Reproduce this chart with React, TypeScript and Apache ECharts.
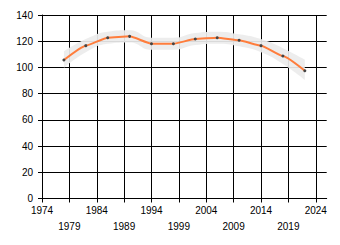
import React, { useEffect, useRef } from "react";
import * as echarts from "echarts";

const FIRST_YEAR = 1974;
const LAST_YEAR = 2026;
const TICK_STEP = 5;
const LAST_TICK_YEAR = 2024;
const years = [1978, 1982, 1986, 1990, 1994, 1998, 2002, 2006, 2010, 2014, 2018, 2022];
const values = [105.7, 116.6, 122.7, 123.7, 118.1, 118.1, 121.7, 122.7, 120.7, 116.6, 108.7, 97.5];
const upper = [112.2, 121.6, 127.3, 128.3, 122.7, 122.7, 126.3, 127.3, 125.3, 121.6, 114.7, 106.0];
const lower = [99.7, 111.6, 118.1, 119.1, 113.5, 113.5, 117.1, 118.1, 116.1, 111.6, 102.7, 90.5];
const yTicks = [0, 20, 40, 60, 80, 100, 120, 140];

export default function App() {
  const ref = useRef<HTMLDivElement>(null);
  useEffect(() => {
    if (!ref.current) return;
    const chart = echarts.init(ref.current, null, { renderer: "svg" });
    const categories: string[] = [];
    for (let y = FIRST_YEAR; y <= LAST_YEAR; y++) categories.push(String(y));
    const lastTickIdx = LAST_TICK_YEAR - FIRST_YEAR;
    const isTick = (i: number) => i % TICK_STEP === 0 && i <= lastTickIdx;
    const font = { fontFamily: "Liberation Sans", fontSize: 10, color: "#000" };
    const cat = (i: number) => String(years[i]);
    chart.setOption({
      animation: false,
      grid: { left: 42, right: 13.3, top: 15, bottom: 46.5, containLabel: false },
      xAxis: {
        type: "category",
        data: categories,
        boundaryGap: false,
        axisLine: { show: true, lineStyle: { color: "#000", width: 1 } },
        axisTick: { show: true, length: 4, interval: (i: number) => isTick(i), lineStyle: { color: "#000" } },
        splitLine: { show: true, interval: (i: number) => isTick(i), lineStyle: { color: "#000", width: 1 } },
        axisLabel: {
          ...font,
          margin: 4,
          lineHeight: 16,
          interval: (i: number) => isTick(i),
          formatter: (v: string, i: number) => ((i / TICK_STEP) % 2 === 1 ? "\n" + v : v),
        },
      },
      yAxis: {
        type: "value",
        min: yTicks[0],
        max: yTicks[yTicks.length - 1],
        interval: yTicks[1] - yTicks[0],
        axisLine: { show: true, lineStyle: { color: "#000", width: 1 } },
        axisTick: { show: true, length: 4, lineStyle: { color: "#000" } },
        splitLine: { show: true, lineStyle: { color: "#000", width: 1 } },
        axisLabel: { ...font, margin: 9 },
      },
      series: [
        {
          type: "line",
          name: "lower",
          stack: "band",
          smooth: true,
          symbol: "none",
          lineStyle: { width: 0, opacity: 0 },
          data: years.map((_, i) => [cat(i), lower[i]]),
          silent: true,
        },
        {
          type: "line",
          name: "band",
          stack: "band",
          smooth: true,
          symbol: "none",
          lineStyle: { width: 0, opacity: 0 },
          areaStyle: { color: "#ebebeb", opacity: 0.92 },
          data: years.map((_, i) => [cat(i), upper[i] - lower[i]]),
          silent: true,
        },
        {
          type: "line",
          name: "value",
          smooth: 0.15,
          smoothMonotone: "x",
          symbol: "circle",
          symbolSize: 3,
          showSymbol: true,
          lineStyle: { color: "#ff7d3c", width: 2 },
          itemStyle: { color: "#444" },
          data: years.map((_, i) => [cat(i), values[i]]),
          z: 5,
        },
      ],
    });
    return () => chart.dispose();
  }, []);
  return <div ref={ref} style={{ width: 340, height: 245, margin: -8 }} />;
}
